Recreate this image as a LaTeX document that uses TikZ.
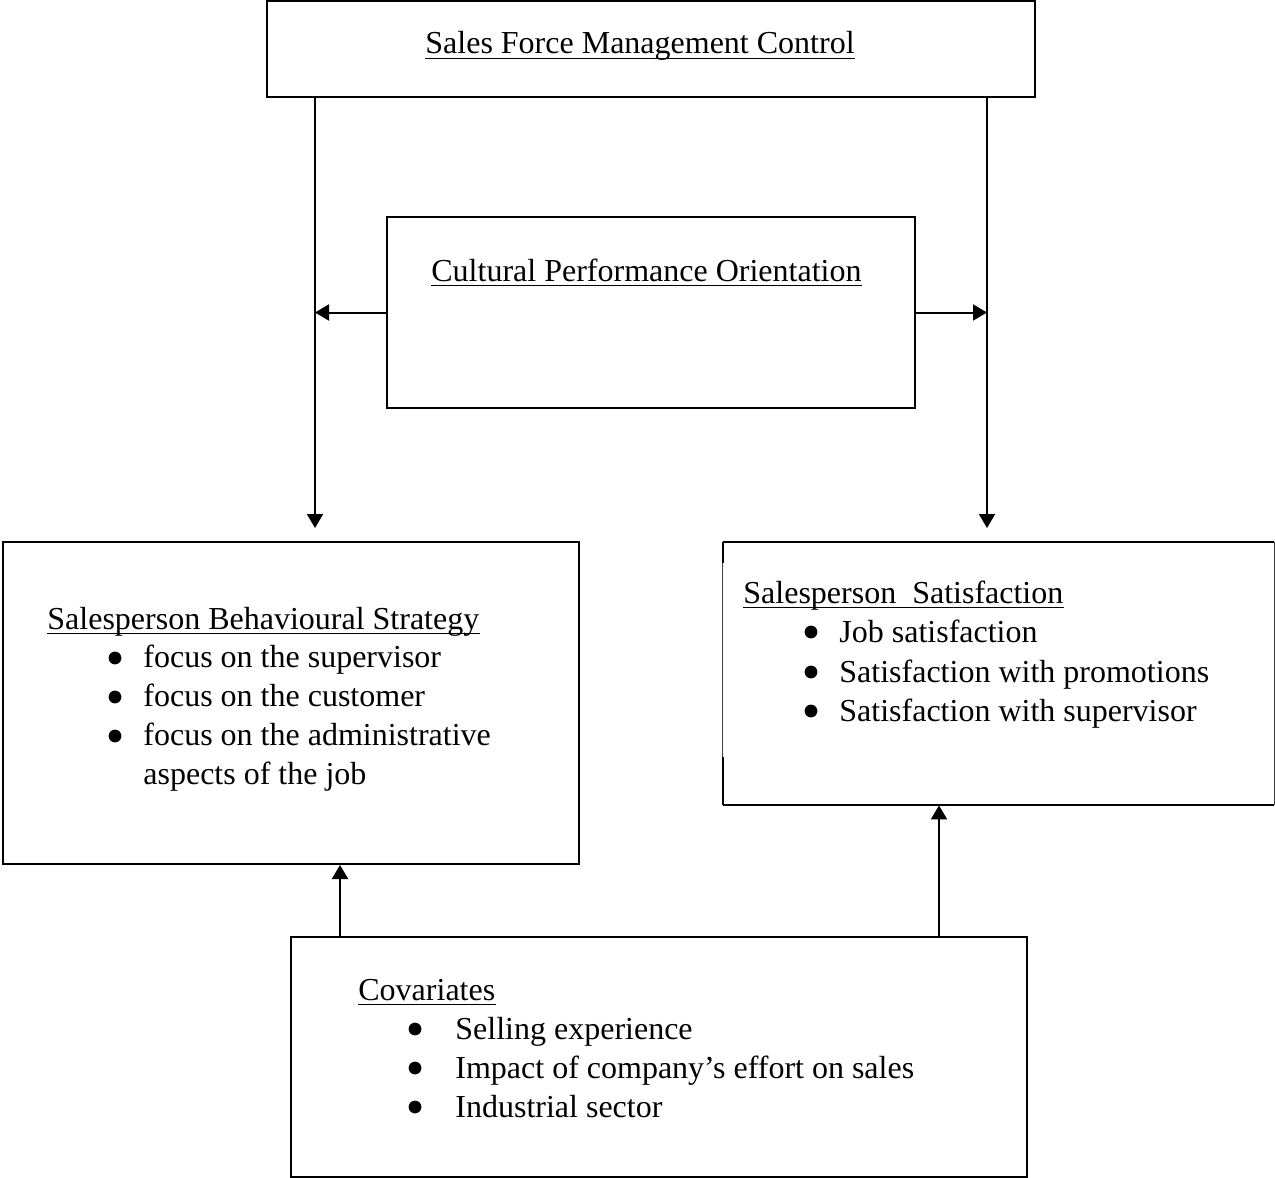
\documentclass[tikz,border=0pt]{standalone}
\usepackage{fontspec}
\setmainfont{Liberation Serif}
\usetikzlibrary{arrows.meta}
\tikzset{
  box/.style={draw, line width=1pt, rectangle, inner sep=0pt},
  plain/.style={rectangle, inner sep=0pt},
  txt/.style={anchor=base west, inner sep=0pt, font=\fontsize{16}{19}\selectfont},
  dot/.style={circle, fill, inner sep=0pt, minimum size=6.4pt},
  conn/.style={line width=1pt, -{Triangle[length=7pt,width=8pt]}},
  ul/.style={line width=0.9pt}
}
\newcommand{\ulnode}[1]{\draw[ul] ([yshift=-2.2pt]#1.base west) -- ([yshift=-2.2pt]#1.base east);}
\begin{document}
\begin{tikzpicture}[x=0.5pt,y=-0.5pt]
\useasboundingbox (0,0) rectangle (1275,1178);
% boxes
\node[box, minimum width=384pt, minimum height=48pt] (top) at (651,49) {};
\node[box, minimum width=264pt, minimum height=95.5pt] (mid) at (651,312.5) {};
\node[box, minimum width=288pt, minimum height=161pt] (lft) at (291,703) {};
\node[plain, minimum width=275.5pt, minimum height=131.5pt] (rgt) at (998.5,673.5) {};
\node[box, minimum width=368pt, minimum height=120pt] (bot) at (659,1057) {};
% right box edges
\draw[line width=1pt] (rgt.north west) -- (rgt.north east);
\draw[line width=1pt] (rgt.south west) -- (rgt.south east);
\draw[line width=0.6pt, black!75] (rgt.north east) -- (rgt.south east);
\draw[line width=1pt] (rgt.north west) -- ([yshift=-10.5pt]rgt.north west);
\draw[line width=0.6pt, black!75] ([yshift=-10.5pt]rgt.north west) -- ([yshift=-107.5pt]rgt.north west);
\draw[line width=1pt] ([yshift=-107.5pt]rgt.north west) -- (rgt.south west);
% free ends
\coordinate (la) at (315,528);
\coordinate (ra) at (987,528);
\coordinate (lb) at (340,937);
\coordinate (rb) at (939,937);
% connectors
\draw[conn] (top.south -| la) -- (la);
\draw[conn] (top.south -| ra) -- (ra);
\draw[conn] (mid.west) -- (mid.west -| la);
\draw[conn] (mid.east) -- (mid.east -| ra);
\draw[conn] (lb) -- (lb |- lft.south);
\draw[conn] (rb) -- (rb |- rgt.south);
% texts
\node[txt] (t1) at (425,54) {Sales Force Management Control}; \ulnode{t1}
\node[txt] (t2) at (431,281) {Cultural Performance Orientation}; \ulnode{t2}
\node[txt] (t3) at (47,629) {Salesperson Behavioural Strategy}; \ulnode{t3}
\node[dot] (b31) at (115,658) {};
\node[txt] (i31) at (143,667) {focus on the supervisor};
\node[dot] (b32) at (115,697) {};
\node[txt] (i32) at (143,706) {focus on the customer};
\node[dot] (b33) at (115,736) {};
\node[txt] (i33) at (143,745) {focus on the administrative};
\node[txt] (i34) at (143,784) {aspects of the job};
\node[txt] (t4) at (743,603) {Salesperson\ \ Satisfaction}; \ulnode{t4}
\node[dot] (b41) at (811,632) {};
\node[txt] (i41) at (839,642) {Job satisfaction};
\node[dot] (b42) at (811,672) {};
\node[txt] (i42) at (839,682) {Satisfaction with promotions};
\node[dot] (b43) at (811,711) {};
\node[txt] (i43) at (839,721) {Satisfaction with supervisor};
\node[txt] (t5) at (358,1000) {Covariates}; \ulnode{t5}
\node[dot] (b51) at (415,1029) {};
\node[txt] (i51) at (455,1039) {Selling experience};
\node[dot] (b52) at (415,1068) {};
\node[txt] (i52) at (455,1078) {Impact of company’s effort on sales};
\node[dot] (b53) at (415,1107) {};
\node[txt] (i53) at (455,1117) {Industrial sector};
\end{tikzpicture}
\end{document}
